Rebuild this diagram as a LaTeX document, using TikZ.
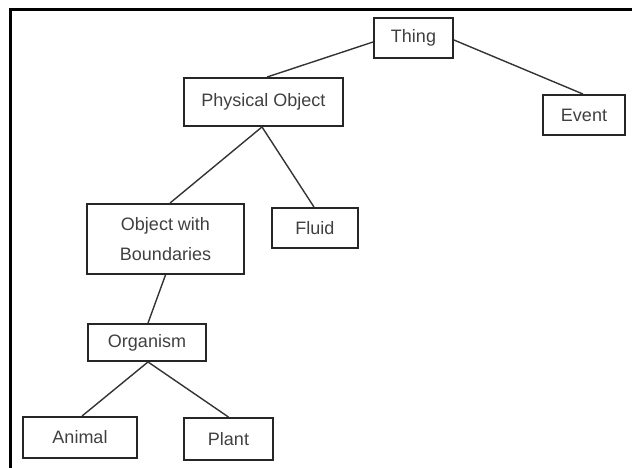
\documentclass[tikz,border=0pt]{standalone}
\usepackage{fontspec}
\setmainfont{Liberation Sans}
\begin{document}
\begin{tikzpicture}[x=1pt,y=-1pt,
  concept/.style={draw=black!85, line width=1.9pt, text=black!75,
    inner sep=0pt, align=center,
    font=\fontsize{18}{24}\selectfont},
  link/.style={draw=black!80, line width=1.4pt}]
\useasboundingbox (0,0) rectangle (632,468);
% frame along the top and left edges
\draw[line width=3pt] (10,468) -- (10,10) -- (632,10);

% concept boxes
\node[concept, minimum width=79pt,  minimum height=40pt] (thing)    at (413.5,38)  {Thing};
\node[concept, minimum width=159pt, minimum height=48pt] (physical) at (263.5,102) {Physical Object};
\node[concept, minimum width=82pt,  minimum height=40pt] (event)    at (584,115)   {Event};
\node[concept, minimum width=157pt, minimum height=70pt] (bounded)  at (165.5,239) {Object with\\[6pt]Boundaries};
\node[concept, minimum width=86pt,  minimum height=40pt] (fluid)    at (315,228)   {Fluid};
\node[concept, minimum width=118pt, minimum height=37pt] (organism) at (147,342.5) {Organism};
\node[concept, minimum width=114pt, minimum height=41pt] (animal)   at (80,437.5)  {Animal};
\node[concept, minimum width=89pt,  minimum height=42pt] (plant)    at (228.5,439) {Plant};

% hierarchy links
\draw[link] ([yshift=-4pt]thing.west) -- ([xshift=3.5pt]physical.north);
\draw[link] ([yshift=-2pt]thing.east) -- ([xshift=-1pt]event.north);
\draw[link] ([xshift=-1.5pt]physical.south) -- ([xshift=4.5pt]bounded.north);
\draw[link] ([xshift=-1.5pt]physical.south) -- ([xshift=-1pt]fluid.north);
\draw[link] (bounded.south) -- ([xshift=1pt]organism.north);
\draw[link] ([xshift=1pt]organism.south) -- ([xshift=2pt]animal.north);
\draw[link] ([xshift=1pt]organism.south) -- (plant.north);
\end{tikzpicture}
\end{document}
